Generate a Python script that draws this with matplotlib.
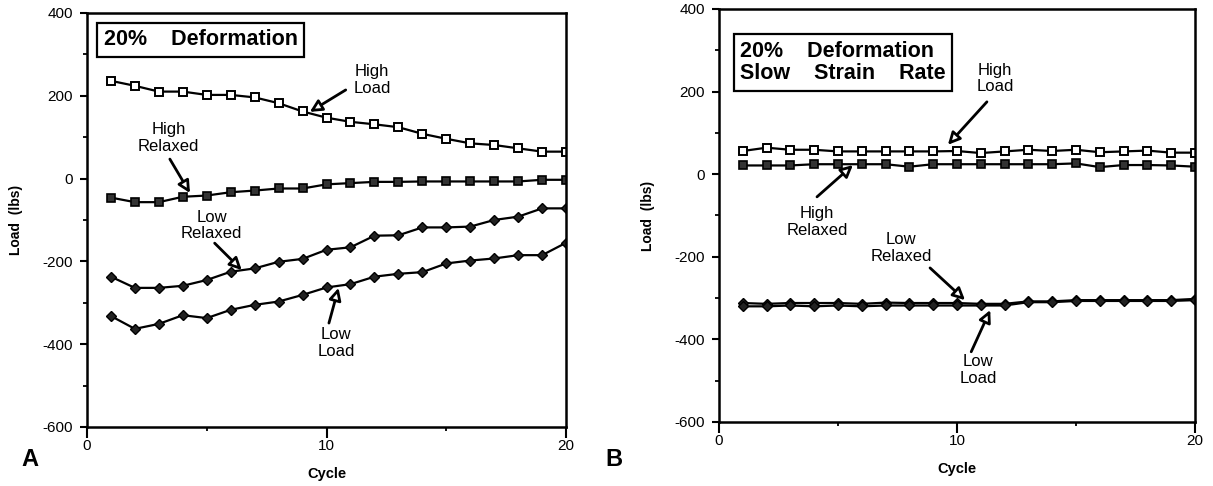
import matplotlib.pyplot as plt
from matplotlib.ticker import MultipleLocator

plt.rcParams['font.family'] = ['Liberation Sans', 'DejaVu Sans']
plt.rcParams['axes.unicode_minus'] = False

cycles = list(range(1, 21))

# panel A: 20% deformation
a_high_load = [236, 224, 210, 210, 202, 202, 196, 182, 162, 147,
               137, 131, 124, 108, 96, 85, 81, 73, 65, 65]
a_high_relaxed = [-46, -57, -57, -44, -41, -33, -29, -24, -24, -14,
                  -11, -8, -8, -7, -7, -7, -7, -7, -3, -3]
a_low_relaxed = [-237, -264, -264, -259, -245, -225, -217, -201, -194, -172,
                 -166, -138, -137, -118, -118, -116, -100, -92, -72, -72]
a_low_load = [-332, -363, -351, -330, -337, -317, -305, -297, -281, -263,
              -255, -237, -230, -226, -205, -198, -193, -185, -185, -155]

# panel B: 20% deformation, slow strain rate
b_high_load = [56, 64, 59, 59, 55, 55, 55, 55, 55, 56,
               51, 55, 59, 56, 59, 53, 55, 57, 52, 52]
b_high_relaxed = [21, 21, 21, 24, 24, 24, 24, 18, 24, 24,
                  24, 24, 24, 24, 26, 17, 22, 22, 21, 18]
b_low_relaxed = [-312, -314, -312, -312, -312, -314, -311, -312, -312, -312,
                 -314, -314, -308, -308, -305, -305, -305, -305, -305, -302]
b_low_load = [-320, -320, -318, -320, -318, -320, -318, -318, -318, -318,
              -318, -318, -310, -310, -307, -307, -307, -307, -307, -305]

fig = plt.figure(figsize=(12.13, 4.86), dpi=100)
axA = fig.add_axes([0.0717, 0.1214, 0.395, 0.852])
axB = fig.add_axes([0.5927, 0.1317, 0.3924, 0.850])

def draw(ax, hl, hr, lr, ll):
    lw = 1.6
    ax.plot(cycles, hl, color='black', lw=lw, marker='s', ms=6,
            mfc='white', mec='black', mew=1.4)
    ax.plot(cycles, hr, color='black', lw=lw, marker='s', ms=6,
            mfc='#333333', mec='black', mew=1.2)
    ax.plot(cycles, lr, color='black', lw=lw, marker='D', ms=5.5,
            mfc='#222222', mec='black', mew=1.0)
    ax.plot(cycles, ll, color='black', lw=lw, marker='D', ms=5.5,
            mfc='#222222', mec='black', mew=1.0)
    ax.set_xlim(0, 20)
    ax.set_ylim(-600, 400)
    ax.set_xticks([0, 10, 20])
    ax.xaxis.set_minor_locator(MultipleLocator(5))
    ax.set_yticks([-600, -400, -200, 0, 200, 400])
    ax.yaxis.set_minor_locator(MultipleLocator(100))
    ax.tick_params(which='major', direction='out', length=5, width=1.5,
                   labelsize=11, pad=5)
    ax.tick_params(which='minor', direction='out', length=3, width=1.3)
    ax.tick_params(axis='x', which='major', length=8, pad=1)
    for s in ax.spines.values():
        s.set_linewidth(1.8)
    ax.set_xlabel('Cycle', fontsize=10.5, fontweight='bold', labelpad=10)
    ax.set_ylabel('Load  (lbs)', fontsize=10, fontweight='bold', labelpad=14)

def note(ax, text, xy, tail, pos):
    ax.text(pos[0], pos[1], text, ha='center', va='center', fontsize=12,
            linespacing=1.1)
    ax.annotate('', xy=xy, xytext=tail,
                arrowprops=dict(arrowstyle='-|>', fc='white', ec='black',
                                lw=2.0, mutation_scale=18,
                                shrinkA=0, shrinkB=0))

draw(axA, a_high_load, a_high_relaxed, a_low_relaxed, a_low_load)
draw(axB, b_high_load, b_high_relaxed, b_low_relaxed, b_low_load)

bbox = dict(boxstyle='square,pad=0.3', fc='white', ec='black', lw=1.6)
axA.text(0.035, 0.935, '20%    Deformation', transform=axA.transAxes,
         fontsize=15.5, fontweight='bold', va='center', ha='left', bbox=bbox)
axB.text(0.045, 0.87, '20%    Deformation\nSlow    Strain    Rate',
         transform=axB.transAxes, fontsize=15.5, fontweight='bold',
         va='center', ha='left', linespacing=1.1, bbox=bbox)

# panel A labels
note(axA, 'High\nLoad', (9.3, 161), (10.8, 214), (11.9, 238))
note(axA, 'High\nRelaxed', (4.3, -35), (3.46, 47), (3.4, 98))
note(axA, 'Low\nRelaxed', (6.46, -221), (5.33, -156), (5.2, -114))
note(axA, 'Low\nLoad', (10.5, -264), (10.1, -349), (10.4, -397))

# panel B labels
note(axB, 'High\nLoad', (9.62, 71), (11.26, 175), (11.6, 232))
note(axB, 'High\nRelaxed', (5.63, 22), (4.12, -55), (4.12, -116))
note(axB, 'Low\nRelaxed', (10.34, -305), (8.87, -227), (7.65, -179))
note(axB, 'Low\nLoad', (11.4, -329), (10.6, -430), (10.9, -474))

fig.text(0.025, 0.054, 'A', fontsize=17, fontweight='bold', ha='center', va='center')
fig.text(0.506, 0.054, 'B', fontsize=17, fontweight='bold', ha='center', va='center')

fig.savefig('out.png', dpi=100)
